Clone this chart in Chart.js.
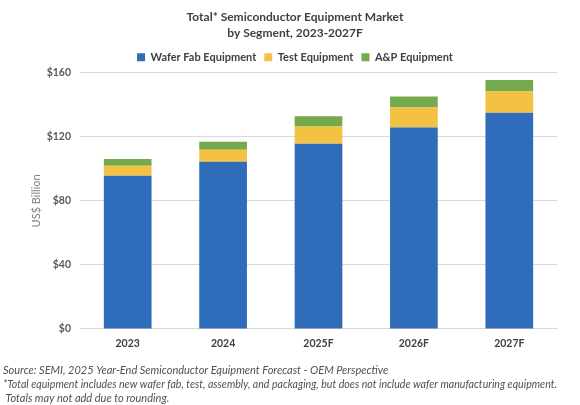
<!DOCTYPE html>
<html>
<head>
<meta charset="utf-8">
<script src="https://cdn.jsdelivr.net/npm/chart.js@4/dist/chart.umd.min.js"></script>
<style>
html,body{margin:0;padding:0;background:#fff;}
#wrap{width:580px;height:405px;position:relative;}
</style>
</head>
<body>
<div id="wrap"><canvas id="c"></canvas></div>
<script>
const categories = ['2023', '2024', '2025F', '2026F', '2027F'];
const waferFab = [95.6, 104.4, 115.6, 125.8, 135.0];
const testEquip = [6.3, 7.5, 10.8, 12.5, 13.3];
const apEquip = [4.2, 5.0, 6.5, 6.9, 7.1];
const yTicks = [0, 40, 80, 120, 160];
const titleLines = ['Total* Semiconductor Equipment Market', 'by Segment, 2023-2027F'];
const footLines = [
  'Source: SEMI, 2025 Year-End Semiconductor Equipment Forecast - OEM Perspective',
  '*Total equipment includes new wafer fab, test, assembly, and packaging, but does not include wafer manufacturing equipment.',
  ' Totals may not add due to rounding.'
];

const FONT = 'Lato, "Open Sans", sans-serif';

const shiftPlugin = {
  id: 'shiftTop',
  afterLayout(chart) {
    if (chart.titleBlock) { chart.titleBlock.left = 0; chart.titleBlock.right = 590; }
    if (chart.legend) { chart.legend.left = 0; chart.legend.right = 590; }
  }
};

new Chart(document.getElementById('c'), {
  type: 'bar',
  data: {
    labels: categories,
    datasets: [
      { label: 'Wafer Fab Equipment', data: waferFab, backgroundColor: '#2F6DBA' },
      { label: 'Test Equipment', data: testEquip, backgroundColor: '#F4C242' },
      { label: 'A&P Equipment', data: apEquip, backgroundColor: '#74A94C' }
    ]
  },
  options: {
    responsive: true,
    maintainAspectRatio: false,
    animation: false,
    layout: { padding: { left: 3, right: 23, top: 0, bottom: 0 } },
    datasets: { bar: { categoryPercentage: 0.5, barPercentage: 1.0 } },
    plugins: {
      title: {
        display: true,
        text: titleLines,
        color: '#404040',
        font: { family: FONT, size: 12, weight: 'bold', lineHeight: 1.38 },
        padding: { top: 8.4, bottom: 2.2 }
      },
      legend: {
        display: true,
        position: 'top',
        labels: {
          color: '#404040',
          font: { family: FONT, size: 11, weight: 'bold' },
          boxWidth: 8,
          boxHeight: 8,
          padding: 8
        }
      },
      subtitle: {
        display: true,
        position: 'bottom',
        align: 'start',
        text: footLines,
        color: '#505050',
        font: { family: FONT, size: 11, style: 'italic', lineHeight: 1.27 },
        padding: { top: 5.5, bottom: 0 }
      },
      tooltip: { enabled: false }
    },
    scales: {
      x: {
        stacked: true,
        grid: { display: false, drawTicks: false },
        border: { display: true, color: '#d9d9d9' },
        ticks: { color: '#404040', font: { family: FONT, size: 10.5, weight: 'bold' }, padding: 8 }
      },
      y: {
        stacked: true,
        min: 0,
        max: 160,
        afterFit(scale) { scale.width = 77; },
        afterBuildTicks(scale) { scale.ticks = yTicks.map(v => ({ value: v })); },
        grid: { color: '#d9d9d9', drawTicks: false },
        border: { display: false },
        title: { display: true, text: 'US$ Billion', color: '#7f7f7f', font: { family: FONT, size: 11 }, padding: { top: 27, bottom: 0 } },
        ticks: { color: '#595959', font: { family: FONT, size: 10.5, weight: 'bold' }, padding: 9, callback: v => '$' + v }
      }
    }
  },
  plugins: [shiftPlugin]
});
</script>
</body>
</html>
